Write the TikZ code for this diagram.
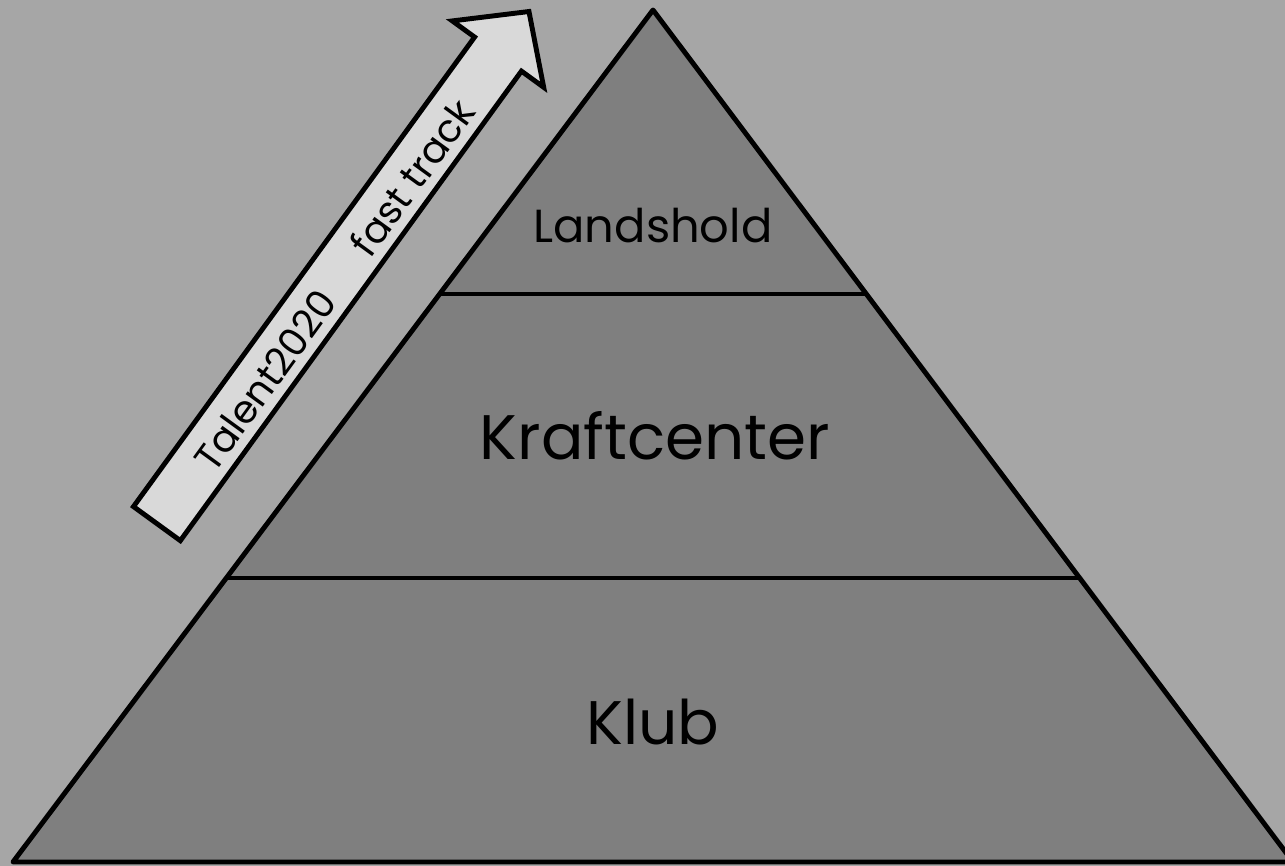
\documentclass[tikz,border=0pt]{standalone}
\usepackage{fontspec}
\setmainfont{Poppins}
\usetikzlibrary{calc,shapes.arrows}
\definecolor{bggray}{HTML}{A6A6A6}
\definecolor{pyrgray}{HTML}{7F7F7F}
\definecolor{trackgray}{HTML}{D9D9D9}
\tikzset{
  tier/.style={draw,line width=1.4pt,fill=pyrgray,line join=round},
  tierline/.style={draw,line width=1.4pt},
  tierlabel/.style={anchor=base,inner sep=0pt},
  trackarrow/.style={single arrow,draw,line width=1.4pt,fill=trackgray,
    minimum height=63.3mm,single arrow head extend=2.75mm,
    single arrow tip angle=94,inner xsep=0pt,inner ysep=2.65mm,rotate=54}
}

\begin{document}
\begin{tikzpicture}[x=0.1mm,y=-0.1mm]
  \useasboundingbox[fill=bggray] (0,0) rectangle (1285,866);
  % pyramid
  \coordinate (apex) at (653,10);
  \coordinate (bl) at (13,862);
  \coordinate (br) at (1293,862);
  \path[tier] (apex) -- (bl) -- (br) -- cycle;
  \draw[tierline] ($(apex)!1/3!(bl)$) -- ($(apex)!1/3!(br)$);
  \draw[tierline] ($(apex)!2/3!(bl)$) -- ($(apex)!2/3!(br)$);
  \node[tierlabel,font=\fontsize{13.2}{16}\selectfont] (landshold) at (653,243) {Landshold};
  \node[tierlabel,font=\fontsize{17.9}{21}\selectfont] (kraftcenter) at (655,460) {Kraftcenter};
  \node[tierlabel,font=\fontsize{17.5}{21}\selectfont] (klub) at (653,745) {Klub};
  % fast track arrow
  \node[trackarrow] (track) at (335,278.5) {};
  \node[rotate=54,inner sep=0pt,font=\fontsize{11}{13}\selectfont] (tracktext) at (334,285)
    {Talent2020\hspace{1.4em}fast track};
\end{tikzpicture}
\end{document}
